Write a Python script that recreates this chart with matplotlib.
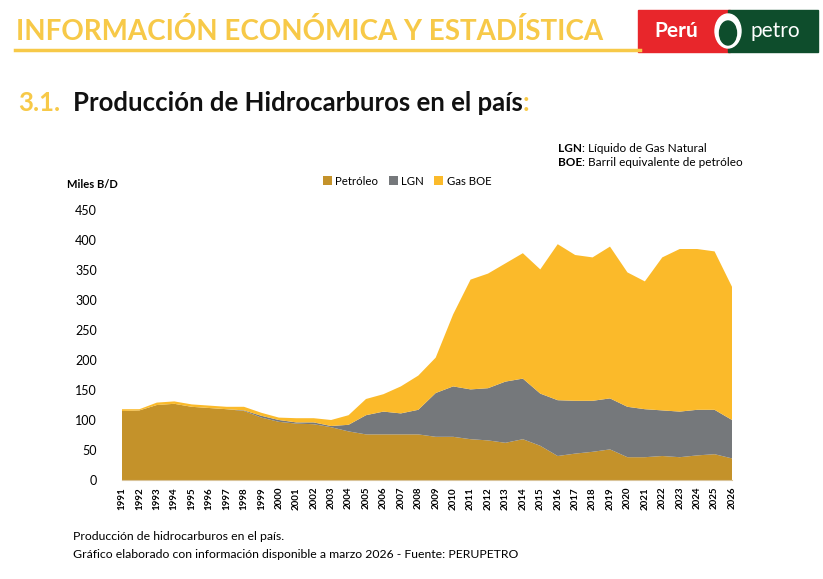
import matplotlib.pyplot as plt
from matplotlib.patches import Rectangle, Ellipse

# Data (miles de barriles por día)
years = list(range(1991, 2027))
petroleo = [115, 116, 125, 127, 122, 120, 118, 115, 104, 97,
            94, 93, 88, 81, 76, 76, 76, 76, 72, 72,
            68, 66, 62, 68, 57, 40, 44, 47, 51, 38,
            38, 40, 38, 41, 43, 36]
lgn = [0, 0, 0, 0, 0, 0, 0, 1, 3, 3,
       2, 3, 2, 11, 32, 38, 35, 41, 73, 84,
       83, 87, 102, 101, 87, 93, 88, 85, 85, 84,
       80, 76, 76, 76, 74, 64]
gas_boe = [3, 2, 4, 4, 4, 4, 4, 6, 5, 4,
           7, 7, 10, 16, 27, 29, 45, 57, 59, 120,
           183, 191, 197, 209, 207, 260, 243, 239, 253, 224,
           213, 255, 271, 268, 264, 222]
y_ticks = [0, 50, 100, 150, 200, 250, 300, 350, 400, 450]

c_pet = '#C4922A'
c_lgn = '#75787B'
c_gas = '#FBBA2A'
c_yel = '#F7C948'

plt.rcParams['font.family'] = ['Lato', 'DejaVu Sans']

fig = plt.figure(figsize=(8.23, 5.79), dpi=100)
W, H = 823, 579

def fx(px):
    return px / W

def fy(py):
    return 1 - py / H

# Chart
ax = fig.add_axes([fx(122), fy(480), fx(610), 270 / H])

def after(prev, text, **kw):
    # put a text right after another text artist
    return ax.annotate(text, xy=(1, 0.5), xycoords=prev, va='center', ha='left',
                       annotation_clip=False, **kw)

# Header
fig.text(fx(16), fy(32), 'INFORMACIÓN ECONÓMICA Y ESTADÍSTICA', color=c_yel,
         fontsize=20, fontweight='bold', va='center', ha='left')
fig.add_artist(plt.Line2D([fx(15), fx(640)], [fy(50), fy(50)], color=c_yel, lw=2.5))

# Logo
fig.add_artist(Rectangle((fx(638), fy(52)), fx(92), 42 / H, color='#E8262B'))
fig.add_artist(Rectangle((fx(728), fy(52)), fx(90), 42 / H, color='#0E4D2C'))
fig.add_artist(Ellipse((fx(728), fy(31)), fx(26), 34 / H, color='white'))
fig.add_artist(Ellipse((fx(728), fy(33)), fx(17), 24 / H, color='#0E4D2C'))
fig.text(fx(676), fy(31), 'Perú', color='white', fontsize=15, fontweight='bold',
         ha='center', va='center')
fig.text(fx(775), fy(31), 'petro', color='white', fontsize=15,
         ha='center', va='center')

# Section title
fig.text(fx(18), fy(103), '3.1.', color=c_yel, fontsize=18.5, fontweight='bold', va='center')
t = fig.text(fx(73), fy(103), 'Producción de Hidrocarburos en el país', color='#111111',
             fontsize=18.5, fontweight='bold', va='center')
after(t, ':', color=c_yel, fontsize=18.5, fontweight='bold')

# Notes
n1 = fig.text(fx(558), fy(149), 'LGN', fontsize=8.5, fontweight='bold', va='center')
after(n1, ': Líquido de Gas Natural', fontsize=8.5)
n2 = fig.text(fx(558), fy(163), 'BOE', fontsize=8.5, fontweight='bold', va='center')
after(n2, ': Barril equivalente de petróleo', fontsize=8.5)

fig.text(fx(67), fy(185), 'Miles B/D', fontsize=8, fontweight='bold', va='center')

ax.stackplot(years, petroleo, lgn, gas_boe, colors=[c_pet, c_lgn, c_gas],
             labels=['Petróleo', 'LGN', 'Gas BOE'], lw=0)
ax.set_xlim(1991, 2026)
ax.set_ylim(0, 450)
ax.set_yticks(y_ticks)
ax.set_xticks(years)
ax.set_xticklabels([str(y) for y in years], rotation=90, fontsize=7, fontweight='bold')
ax.tick_params(axis='y', labelsize=9, length=0, pad=18)
ax.tick_params(axis='x', length=0, pad=5)
for s in ['top', 'right', 'left']:
    ax.spines[s].set_visible(False)
ax.spines['bottom'].set_color('#D9C49A')

fig.legend(loc='center', bbox_to_anchor=(fx(407), fy(181)), ncol=3, frameon=False,
           fontsize=8.2, handlelength=0.8, handleheight=0.8, handletextpad=0.3,
           columnspacing=0.9)

# Footer
fig.text(fx(73), fy(537), 'Producción de hidrocarburos en el país.', fontsize=8.8, va='center')
fig.text(fx(73), fy(554), 'Gráfico elaborado con información disponible a marzo 2026 - Fuente: PERUPETRO',
         fontsize=8.8, va='center')

fig.savefig('out.png', dpi=100)
